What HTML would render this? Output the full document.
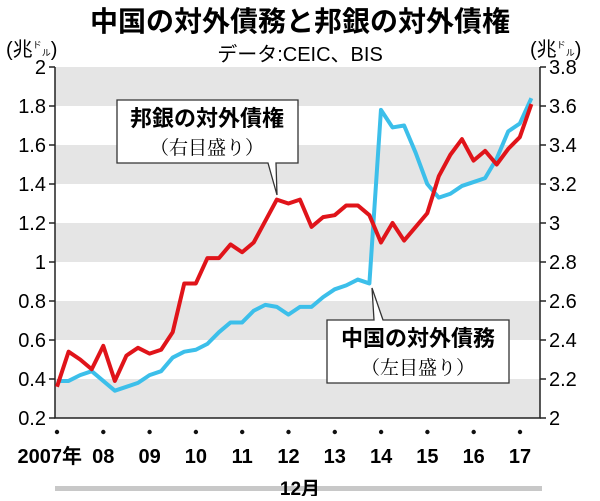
<!DOCTYPE html>
<html><head><meta charset="utf-8"><style>
body{margin:0;background:#fff}
svg text{font-family:"Liberation Sans","Noto Sans CJK JP",sans-serif}
</style></head><body>
<svg width="600" height="496" viewBox="0 0 600 496" id="c">
<text x="300" y="31" text-anchor="middle" font-size="28" font-weight="bold">中国の対外債務と邦銀の対外債権</text>
<text x="300" y="61" text-anchor="middle" font-size="20">データ:CEIC、BIS</text>
<text x="6" y="56" font-size="20">(兆<tspan font-size="9" dy="-8">ド</tspan><tspan font-size="9" dy="8">ル</tspan>)</text>
<text x="530" y="56" font-size="20">(兆<tspan font-size="9" dy="-8">ド</tspan><tspan font-size="9" dy="8">ル</tspan>)</text>
<g id="bands"></g><g id="axes"></g><g id="lines"></g>
<g>
<path d="M117,100 H298 V163 H276 L277,195 L268,163 H117 Z" fill="#fff" stroke="#333" stroke-width="1.3"/>
<text x="207" y="126" text-anchor="middle" font-size="22" font-weight="bold">邦銀の対外債権</text>
<text x="207" y="154" text-anchor="middle" font-size="19" style="font-family:'Liberation Serif','Noto Serif CJK SC',serif">（右目盛り）</text>
</g>
<g>
<path d="M327,320 H374 L372,288 L383,320 H509 V383 H327 Z" fill="#fff" stroke="#333" stroke-width="1.3"/>
<text x="418" y="346" text-anchor="middle" font-size="22" font-weight="bold">中国の対外債務</text>
<text x="418" y="374" text-anchor="middle" font-size="19" style="font-family:'Liberation Serif','Noto Serif CJK SC',serif">（左目盛り）</text>
</g>
<rect x="55" y="486" width="487" height="5" fill="#c8c8c8"/>
<text x="300" y="495" text-anchor="middle" font-size="19" font-weight="bold">12月</text>
</svg>
<script>
const leftTicks=["0.2","0.4","0.6","0.8","1","1.2","1.4","1.6","1.8","2"];
const rightTicks=["2","2.2","2.4","2.6","2.8","3","3.2","3.4","3.6","3.8"];
const yearLabels=["2007年","08","09","10","11","12","13","14","15","16","17"];
const chinaDebt=[0.39,0.39,0.42,0.44,0.39,0.34,0.36,0.38,0.42,0.44,0.51,0.54,0.55,0.58,0.64,0.69,0.69,0.75,0.78,0.77,0.73,0.77,0.77,0.82,0.86,0.88,0.91,0.89,1.78,1.69,1.70,1.56,1.40,1.33,1.35,1.39,1.41,1.43,1.53,1.67,1.71,1.84];
const japanClaims=[2.16,2.34,2.30,2.25,2.37,2.19,2.32,2.36,2.33,2.35,2.44,2.69,2.69,2.82,2.82,2.89,2.85,2.90,3.01,3.12,3.10,3.12,2.98,3.03,3.04,3.09,3.09,3.04,2.90,3.00,2.91,2.98,3.05,3.24,3.35,3.43,3.32,3.37,3.30,3.38,3.44,3.61];
const NS="http://www.w3.org/2000/svg";
const X0=55,X1=540,Y0=67,Y1=418;
const yL=v=>Y1-(v-0.2)/1.8*(Y1-Y0);
const yR=v=>Y1-(v-2)/1.8*(Y1-Y0);
const xQ=i=>57+i*11.57;
function mk(t,a,p){const e=document.createElementNS(NS,t);for(const k in a)e.setAttribute(k,a[k]);p.appendChild(e);return e;}
const bands=document.getElementById('bands'),axes=document.getElementById('axes'),lines=document.getElementById('lines');
for(let i=0;i<9;i+=2){const top=yL(2-0.2*i),bot=yL(2-0.2*(i+1));
const r=mk('rect',{x:X0,y:top,width:X1-X0,height:bot-top,fill:'#e5e5e5'},bands);

}
mk('path',{d:`M${X0},${Y0}V${Y1}H${X1}V${Y0}`,fill:'none',stroke:'#222','stroke-width':1.5},axes);
leftTicks.forEach((t,i)=>{const y=yL(0.2+0.2*i);
mk('line',{x1:X0-6,x2:X0,y1:y,y2:y,stroke:'#222','stroke-width':1.5},axes);
const e=mk('text',{x:X0-9,y:y+7,'text-anchor':'end','font-size':20},axes);e.textContent=t;

});
rightTicks.forEach((t,i)=>{const y=yR(2+0.2*i);
mk('line',{x1:X1,x2:X1+6,y1:y,y2:y,stroke:'#222','stroke-width':1.5},axes);
const e=mk('text',{x:X1+9,y:y+7,'font-size':20},axes);e.textContent=t;

});
yearLabels.forEach((t,i)=>{const x=57+i*46.3;
mk('circle',{cx:x,cy:432,r:2.2,fill:'#111'},axes);
const first=i===0;
const e=mk('text',{x:first?82:x,y:463,'text-anchor':first?'end':'middle','font-size':20,'font-weight':'bold'},axes);e.textContent=t;

});
const pb=mk('polyline',{points:chinaDebt.map((v,i)=>xQ(i)+','+yL(v)).join(' '),fill:'none',stroke:'#3cbfea','stroke-width':4,'stroke-linejoin':'round'},lines);


const pr=mk('polyline',{points:japanClaims.map((v,i)=>xQ(i)+','+yR(v)).join(' '),fill:'none',stroke:'#e0141a','stroke-width':4,'stroke-linejoin':'round'},lines);


</script>
</body></html>
